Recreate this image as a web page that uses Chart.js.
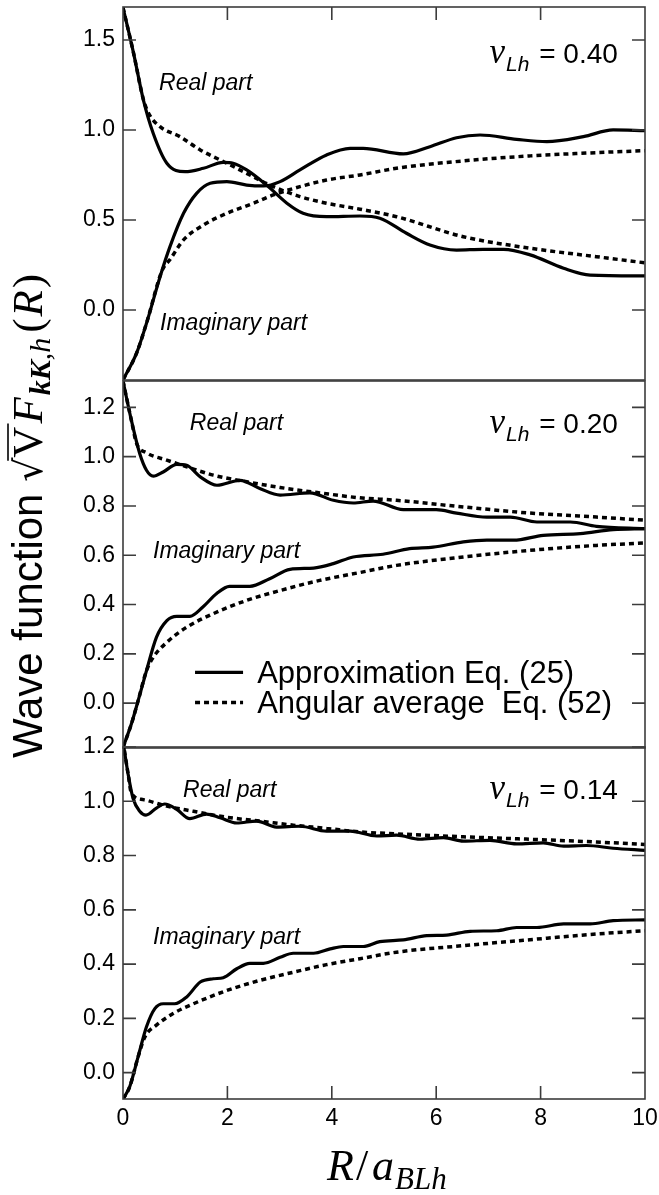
<!DOCTYPE html>
<html>
<head>
<meta charset="utf-8">
<title>Wave function</title>
<script src="https://cdn.jsdelivr.net/npm/chart.js@4.4.1/dist/chart.umd.min.js"></script>
<style>
  html, body { margin: 0; padding: 0; background: #fff; }
  #wrap { position: relative; width: 659px; height: 1195px; }
  #wrap canvas { position: absolute; left: 0; top: 0; }
</style>
</head>
<body>
<div id="wrap">
  <canvas id="panelTop" width="659" height="1195"></canvas>
  <canvas id="panelMid" width="659" height="1195"></canvas>
  <canvas id="panelBot" width="659" height="1195"></canvas>
</div>
<script>
// --- Données ---
const xTicks = [0, 2, 4, 6, 8, 10];
const yTicksTop = [0, 0.5, 1.0, 1.5];
const yTicksMid = [0, 0.2, 0.4, 0.6, 0.8, 1.0, 1.2];
const yTicksBot = [0, 0.2, 0.4, 0.6, 0.8, 1.0, 1.2];

const panelLabels = ["0.40", "0.20", "0.14"];
const legendLabels = ["Approximation Eq. (25)", "Angular average  Eq. (52)"];

// nu_Lh = 0.40  [R, valeur]
const realApprox40 = [[0,1.68],[0.2,1.43],[0.39,1.167],[0.58,0.98],[0.84,0.815],[1.19,0.768],[1.54,0.787],[1.92,0.82],[2.11,0.815],[2.37,0.778],[2.75,0.694],[3.14,0.593],[3.45,0.537],[3.9,0.518],[4.54,0.522],[4.92,0.51],[5.43,0.426],[5.88,0.361],[6.39,0.333],[6.9,0.337],[7.29,0.337],[7.8,0.306],[8.44,0.232],[8.95,0.194],[10,0.189]];
const imagApprox40 = [[0,-0.389],[0.26,-0.24],[0.45,-0.074],[0.71,0.185],[0.9,0.352],[1.16,0.537],[1.41,0.648],[1.67,0.704],[1.99,0.713],[2.37,0.694],[2.69,0.689],[3.01,0.713],[3.39,0.778],[3.9,0.861],[4.35,0.898],[4.6,0.898],[5.37,0.867],[5.88,0.907],[6.39,0.957],[6.84,0.972],[7.54,0.948],[8.12,0.935],[8.82,0.963],[9.39,1.0],[10,0.996]];
const realAvg40 = [[0,1.68],[0.2,1.43],[0.39,1.17],[0.49,1.093],[0.71,1.018],[1.09,0.963],[1.48,0.889],[1.99,0.815],[2.37,0.759],[2.88,0.685],[3.39,0.63],[3.9,0.593],[4.54,0.56],[5.24,0.518],[6.52,0.407],[7.8,0.343],[9.07,0.296],[10,0.262]];
const imagAvg40 = [[0,-0.389],[0.26,-0.24],[0.45,-0.074],[0.75,0.22],[0.9,0.28],[1.16,0.389],[1.54,0.472],[1.99,0.537],[2.5,0.593],[2.88,0.639],[3.39,0.685],[3.9,0.722],[4.54,0.75],[5.24,0.787],[6.52,0.828],[7.8,0.856],[9.07,0.874],[10,0.885]];

// nu_Lh = 0.20
const realApprox20 = [[0,1.307],[0.16,1.148],[0.32,1.013],[0.45,0.945],[0.58,0.921],[0.77,0.938],[1.03,0.969],[1.22,0.965],[1.48,0.918],[1.8,0.884],[2.24,0.904],[2.62,0.871],[3.01,0.844],[3.58,0.853],[4.03,0.823],[4.41,0.812],[4.79,0.82],[5.37,0.785],[6.0,0.785],[6.39,0.771],[6.97,0.755],[7.42,0.755],[7.93,0.735],[8.57,0.735],[9.07,0.717],[10,0.708]];
const imagApprox20 = [[0,-0.18],[0.16,-0.085],[0.29,0.01],[0.45,0.132],[0.64,0.267],[0.84,0.335],[1.03,0.352],[1.28,0.352],[1.53,0.39],[1.79,0.444],[2.04,0.474],[2.43,0.474],[2.81,0.505],[3.2,0.543],[3.65,0.548],[4.03,0.566],[4.41,0.593],[4.98,0.604],[5.49,0.627],[5.94,0.633],[6.52,0.654],[6.97,0.661],[7.48,0.661],[8.05,0.681],[8.76,0.688],[9.39,0.704],[10,0.708]];
const realAvg20 = [[0,1.307],[0.16,1.148],[0.26,1.054],[0.45,1.016],[0.84,0.986],[1.22,0.959],[1.73,0.925],[2.37,0.898],[3.01,0.875],[3.77,0.853],[4.54,0.833],[5.24,0.823],[6.52,0.796],[7.8,0.771],[9.07,0.755],[10,0.742]];
const imagAvg20 = [[0,-0.18],[0.16,-0.085],[0.29,0.01],[0.45,0.132],[0.58,0.186],[0.84,0.247],[1.22,0.308],[1.73,0.363],[2.37,0.417],[3.01,0.457],[3.77,0.498],[4.54,0.53],[5.24,0.559],[6.52,0.593],[7.8,0.62],[9.07,0.64],[10,0.65]];

// nu_Lh = 0.14
const realApprox14 = [[0,1.22],[0.1,1.098],[0.19,1.012],[0.32,0.963],[0.44,0.949],[0.64,0.975],[0.8,0.99],[1.03,0.97],[1.28,0.936],[1.6,0.953],[1.86,0.939],[2.18,0.92],[2.56,0.927],[2.94,0.905],[3.39,0.908],[3.9,0.89],[4.35,0.89],[4.86,0.872],[5.24,0.875],[5.69,0.86],[6.14,0.866],[6.52,0.853],[7.03,0.856],[7.54,0.843],[8.05,0.847],[8.44,0.835],[8.88,0.837],[9.39,0.827],[10,0.819]];
const imagApprox14 = [[0,-0.098],[0.13,-0.051],[0.29,0.059],[0.45,0.169],[0.61,0.236],[0.77,0.254],[0.99,0.254],[1.22,0.279],[1.48,0.334],[1.73,0.346],[1.92,0.35],[2.18,0.383],[2.43,0.403],[2.69,0.403],[3.01,0.425],[3.26,0.44],[3.65,0.44],[3.97,0.456],[4.22,0.465],[4.6,0.465],[4.92,0.483],[5.37,0.489],[5.82,0.505],[6.2,0.507],[6.65,0.521],[7.16,0.523],[7.54,0.535],[7.93,0.535],[8.44,0.548],[8.95,0.548],[9.39,0.56],[10,0.563]];
const realAvg14 = [[0,1.22],[0.1,1.098],[0.16,1.03],[0.39,1.006],[0.84,0.982],[1.35,0.963],[1.99,0.941],[2.62,0.927],[3.26,0.912],[3.9,0.9],[4.54,0.887],[5.24,0.88],[6.52,0.869],[7.8,0.86],[9.07,0.85],[10,0.841]];
const imagAvg14 = [[0,-0.098],[0.13,-0.051],[0.29,0.059],[0.42,0.132],[0.64,0.175],[0.96,0.218],[1.35,0.254],[1.99,0.303],[2.62,0.34],[3.26,0.37],[3.9,0.398],[4.54,0.42],[5.24,0.444],[6.52,0.468],[7.8,0.49],[9.07,0.511],[10,0.523]];

const SANS = '"Liberation Sans", Arial, Helvetica, sans-serif';
const SERIF = '"Liberation Serif", "Times New Roman", serif';
const DOTS = [5, 4];

// Texte composé (plusieurs polices sur une même ligne)
function drawRich(ctx, parts, x, y, align) {
    let total = 0;
    parts.forEach(p => {
        ctx.font = p.font;
        p.w = ctx.measureText(p.text).width + (p.gap || 0);
        total += p.w;
    });
    let cx = x;
    if (align === "right") cx = x - total;
    if (align === "center") cx = x - total / 2;
    parts.forEach(p => {
        ctx.font = p.font;
        ctx.fillText(p.text, cx, y + (p.dy || 0));
        if (p.overline) {
            ctx.save();
            ctx.lineWidth = 1.6;
            ctx.beginPath();
            ctx.moveTo(cx - 3, y - p.overline);
            ctx.lineTo(cx + p.w, y - p.overline);
            ctx.stroke();
            ctx.restore();
        }
        cx += p.w;
    });
}

function nuLabel(value) {
    return [
        { text: "\u03BD", font: `italic 35px ${SERIF}`, gap: 1 },
        { text: "Lh", font: `italic 21px ${SANS}`, dy: 8, gap: 2 },
        { text: " = " + value, font: `28px ${SANS}` }
    ];
}

/* --- Cadre + graduations vers l'intérieur --- */
const framePlugin = {
    id: "frameTicks",
    afterDatasetsDraw(chart, args, opts) {
        const { ctx, chartArea: a, scales: { x, y } } = chart;
        const len = 13;
        ctx.save();
        ctx.strokeStyle = "#3c3c3c";
        ctx.lineWidth = 1.6;
        ctx.strokeRect(a.left, a.top, a.right - a.left, a.bottom - a.top);
        ctx.beginPath();
        opts.yTicks.forEach(v => {
            const py = y.getPixelForValue(v);
            ctx.moveTo(a.left, py); ctx.lineTo(a.left + len, py);
            ctx.moveTo(a.right, py); ctx.lineTo(a.right - len, py);
        });
        xTicks.forEach(v => {
            if (v <= x.min || v >= x.max) return;
            const px = x.getPixelForValue(v);
            if (opts.top) { ctx.moveTo(px, a.top); ctx.lineTo(px, a.top + len); }
            if (opts.bottom) { ctx.moveTo(px, a.bottom); ctx.lineTo(px, a.bottom - len); }
        });
        ctx.stroke();
        ctx.restore();
    }
};

/* --- Annotations, légende, titres d'axes --- */
const textPlugin = {
    id: "panelText",
    afterDraw(chart, args, opts) {
        const { ctx, scales: { x, y } } = chart;
        ctx.save();
        ctx.fillStyle = "#000";
        ctx.strokeStyle = "#000";
        ctx.textBaseline = "alphabetic";

        (opts.notes || []).forEach(n => {
            drawRich(ctx, n.parts, x.getPixelForValue(n.x), y.getPixelForValue(n.y), n.align || "left");
        });

        if (opts.legend) {
            const lg = opts.legend;
            const x0 = x.getPixelForValue(lg.x0);
            const x1 = x.getPixelForValue(lg.x1);
            const tx = x.getPixelForValue(lg.tx);
            lg.rows.forEach(r => {
                const py = y.getPixelForValue(r.y);
                ctx.save();
                ctx.lineWidth = r.dash.length ? 3.5 : 3.2;
                ctx.lineCap = "butt";
                ctx.setLineDash(r.dash);
                ctx.beginPath();
                ctx.moveTo(x0, py);
                ctx.lineTo(x1, py);
                ctx.stroke();
                ctx.restore();
                ctx.font = `31px ${SANS}`;
                ctx.fillText(r.label, tx, py + 11);
            });
        }

        if (opts.axisTitles) {
            // titre axe x : R / a_BLh
            drawRich(ctx, [
                { text: "R", font: `italic 44px ${SERIF}`, gap: 2 },
                { text: "/", font: `44px ${SERIF}`, gap: 4 },
                { text: "a", font: `italic 44px ${SERIF}`, gap: 1 },
                { text: "BLh", font: `italic 31px ${SERIF}`, dy: 9, gap: 3 }
            ], 327, 1180, "left");

            // titre axe y (vertical)
            ctx.save();
            ctx.translate(42, 516);
            ctx.rotate(-Math.PI / 2);
            drawRich(ctx, [
                { text: "Wave function ", font: `42px ${SANS}` },
                { text: "\u221A", font: `38px "DejaVu Serif", ${SERIF}` },
                { text: "V", font: `43px ${SERIF}`, overline: 34, gap: 3 },
                { text: "F", font: `italic 43px ${SERIF}`, gap: 2 },
                { text: "kK", font: `italic bold 30px ${SERIF}`, dy: 8 },
                { text: ",h", font: `italic 30px ${SERIF}`, dy: 8, gap: 5 },
                { text: "(", font: `43px ${SERIF}`, gap: 2 },
                { text: "R", font: `italic 43px ${SERIF}`, gap: 2 },
                { text: ")", font: `43px ${SERIF}` }
            ], 0, 0, "center");
            ctx.restore();
        }
        ctx.restore();
    }
};

function lineSet(label, pairs, dashed) {
    return {
        label,
        data: pairs.map(([x, y]) => ({ x, y })),
        borderColor: "#000",
        borderWidth: dashed ? 3.5 : 3.2,
        borderDash: dashed ? DOTS : [],
        borderCapStyle: "butt",
        pointRadius: 0,
        fill: false,
        cubicInterpolationMode: "monotone"
    };
}

function tickFont() {
    return { family: SANS, size: 23 };
}

function buildPanel(canvasId, cfg) {
    return new Chart(document.getElementById(canvasId), {
        type: "line",
        data: {
            datasets: [
                lineSet("Angular average (real)", cfg.realAvg, true),
                lineSet("Angular average (imag)", cfg.imagAvg, true),
                lineSet("Approximation (real)", cfg.realApprox, false),
                lineSet("Approximation (imag)", cfg.imagApprox, false)
            ]
        },
        options: {
            responsive: false,
            animation: false,
            devicePixelRatio: 1,
            events: [],
            layout: { padding: cfg.padding },
            plugins: {
                legend: { display: false },
                tooltip: { enabled: false },
                frameTicks: { yTicks: cfg.yTicks, top: cfg.topTicks, bottom: cfg.showX },
                panelText: { notes: cfg.notes, legend: cfg.legend, axisTitles: cfg.axisTitles }
            },
            scales: {
                x: {
                    type: "linear",
                    min: 0,
                    max: 10,
                    display: cfg.showX,
                    afterFit: s => {
                        s.paddingLeft = 0;
                        s.paddingRight = 0;
                        if (cfg.showX) s.height = 96;
                    },
                    afterBuildTicks: s => { s.ticks = xTicks.map(v => ({ value: v })); },
                    grid: { display: false, drawTicks: false },
                    border: { display: false },
                    ticks: { padding: 6, color: "#000", font: tickFont(), maxRotation: 0, autoSkip: false }
                },
                y: {
                    type: "linear",
                    min: cfg.yMin,
                    max: cfg.yMax,
                    afterFit: s => {
                        s.width = 123;
                        s.paddingTop = 0;
                        s.paddingBottom = 0;
                    },
                    afterBuildTicks: s => { s.ticks = cfg.yTicks.map(v => ({ value: v })); },
                    grid: { display: false, drawTicks: false },
                    border: { display: false },
                    ticks: { padding: 8, color: "#000", font: tickFont(), callback: v => Number(v).toFixed(1) }
                }
            }
        },
        plugins: [framePlugin, textPlugin]
    });
}

const italic = `italic 23px ${SANS}`;

buildPanel("panelTop", {
    realApprox: realApprox40, imagApprox: imagApprox40, realAvg: realAvg40, imagAvg: imagAvg40,
    yMin: -0.389, yMax: 1.683, yTicks: yTicksTop,
    padding: { top: 7, bottom: 815, left: 0, right: 14 },
    showX: false, topTicks: true,
    notes: [
        { x: 0.69, y: 1.222, parts: [{ text: "Real part", font: italic }] },
        { x: 0.71, y: -0.111, parts: [{ text: "Imaginary part", font: italic }] },
        { x: 9.48, y: 1.374, align: "right", parts: nuLabel(panelLabels[0]) }
    ]
});

buildPanel("panelMid", {
    realApprox: realApprox20, imagApprox: imagApprox20, realAvg: realAvg20, imagAvg: imagAvg20,
    yMin: -0.182, yMax: 1.307, yTicks: yTicksMid,
    padding: { top: 381, bottom: 447, left: 0, right: 14 },
    showX: false, topTicks: false,
    notes: [
        { x: 1.28, y: 1.108, parts: [{ text: "Real part", font: italic }] },
        { x: 0.575, y: 0.588, parts: [{ text: "Imaginary part", font: italic }] },
        { x: 9.48, y: 1.096, align: "right", parts: nuLabel(panelLabels[1]) }
    ],
    legend: {
        x0: 1.38, x1: 2.3, tx: 2.57,
        rows: [
            { label: legendLabels[0], dash: [], y: 0.125 },
            { label: legendLabels[1], dash: DOTS, y: 0.003 }
        ]
    }
});

buildPanel("panelBot", {
    realApprox: realApprox14, imagApprox: imagApprox14, realAvg: realAvg14, imagAvg: imagAvg14,
    yMin: -0.097, yMax: 1.2, yTicks: yTicksBot,
    padding: { top: 747, bottom: 0, left: 0, right: 14 },
    showX: true, topTicks: false,
    notes: [
        { x: 1.15, y: 1.016, parts: [{ text: "Real part", font: italic }] },
        { x: 0.575, y: 0.474, parts: [{ text: "Imaginary part", font: italic }] },
        { x: 9.48, y: 1.008, align: "right", parts: nuLabel(panelLabels[2]) }
    ],
    axisTitles: true
});
</script>
</body>
</html>
